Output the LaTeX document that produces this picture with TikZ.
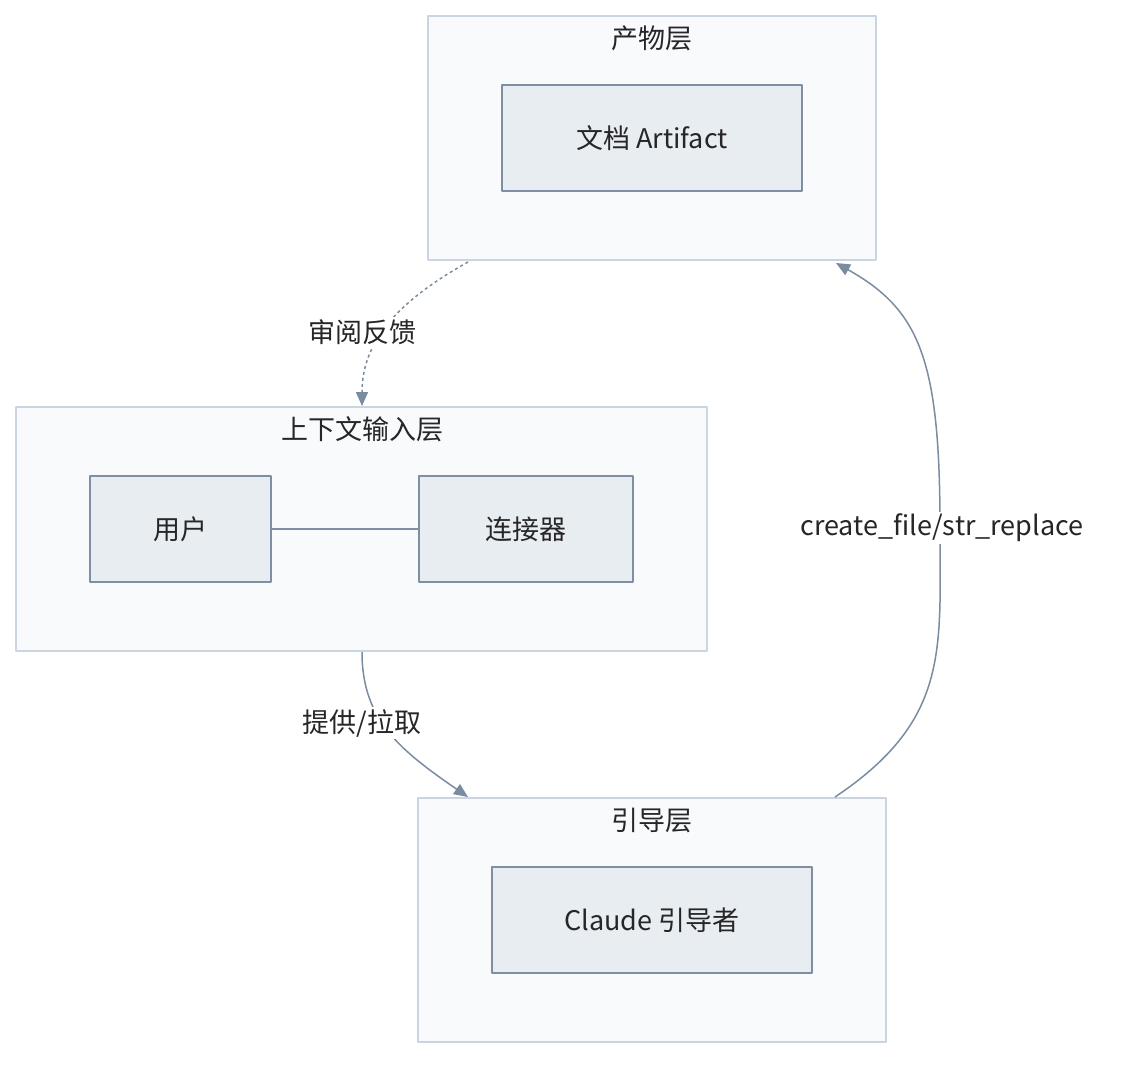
\documentclass[tikz,border=0pt]{standalone}
\usepackage{fontspec}
\setmainfont{Noto Sans CJK SC}
\usetikzlibrary{arrows.meta}
\definecolor{clfill}{HTML}{F8FAFC}
\definecolor{cldraw}{HTML}{CBD5E1}
\definecolor{nfill}{HTML}{E8EDF2}
\definecolor{ndraw}{HTML}{7F8FA3}
\definecolor{edge}{HTML}{7A8CA0}
\begin{document}
\begin{tikzpicture}[x=1pt,y=-1pt,line join=round,
  every node/.style={font=\fontsize{27}{32}\selectfont,text=black!85},
  cluster/.style={draw=cldraw,fill=clfill,line width=1.5pt},
  box/.style={draw=ndraw,fill=nfill,line width=1.5pt},
  flow/.style={draw=edge,line width=1.5pt,-{Triangle[length=14pt,width=12pt]}},
  lbl/.style={fill=white,inner sep=2pt}]
\useasboundingbox (0,0) rectangle (1140,1072);
% clusters
\draw [cluster] (428,16) rectangle (876,260);
\node (tArt) at (652,38) {产物层};
\draw [cluster] (16,407) rectangle (707,651);
\node (tCtx) at (362,429) {上下文输入层};
\draw [cluster] (418,798) rectangle (886,1042);
\node (tGui) at (652,820) {引导层};
% nodes
\draw [box] (502,85) rectangle (802,191);
\node (doc) at (652,138) {文档 Artifact};
\draw [box] (90,476) rectangle (271,582);
\node (user) at (180,529) {用户};
\draw [box] (419,476) rectangle (633,582);
\node (conn) at (526,529) {连接器};
\draw [box] (492,867) rectangle (812,973);
\node (claude) at (652,920) {Claude 引导者};
\coordinate (userR) at (271,529);
\coordinate (connL) at (419,529);
\draw [draw=ndraw,line width=1.5pt] (userR) -- (connL);
% edges between layers
\coordinate (artBL) at (468,262);
\coordinate (ctxT) at (362,406);
\coordinate (ctxB) at (362,652);
\coordinate (guiTL) at (468,797);
\coordinate (guiTR) at (835,797);
\coordinate (artBR) at (836,263);
\draw [flow,dashed,dash pattern=on 3pt off 3pt] (artBL) .. controls (400,300) and (362,340) .. (ctxT);
\node [lbl] (review) at (362,332) {审阅反馈};
\draw [flow] (ctxB) .. controls (362,720) and (400,750) .. (guiTL);
\node [lbl] (pull) at (362,723) {提供/拉取};
\draw [flow] (guiTR) .. controls (950,720) and (940,650) .. (940,528)
  .. controls (940,360) and (920,310) .. (artBR);
\node [lbl] (write) at (942,528) {create\_file/str\_replace};
\end{tikzpicture}
\end{document}
